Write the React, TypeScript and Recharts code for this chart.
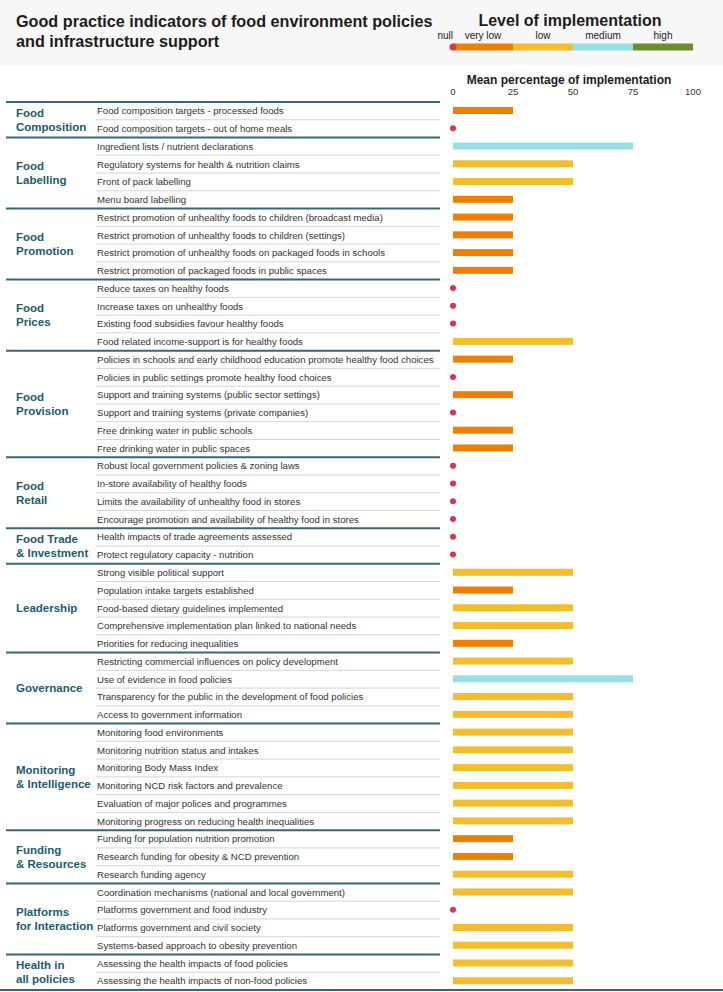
import React from "react";
import { BarChart, Bar, XAxis, YAxis } from "recharts";

const groupLabels: string[][] = [
  ["Food", "Composition"],
  ["Food", "Labelling"],
  ["Food", "Promotion"],
  ["Food", "Prices"],
  ["Food", "Provision"],
  ["Food", "Retail"],
  ["Food Trade", "& Investment"],
  ["Leadership"],
  ["Governance"],
  ["Monitoring", "& Intelligence"],
  ["Funding", "& Resources"],
  ["Platforms", "for Interaction"],
  ["Health in", "all policies"],
];

const groupSizes = [2, 4, 4, 4, 6, 4, 2, 5, 4, 6, 3, 4, 2];

const indicators = [
  "Food composition targets - processed foods",
  "Food composition targets - out of home meals",
  "Ingredient lists / nutrient declarations",
  "Regulatory systems for health & nutrition claims",
  "Front of pack labelling",
  "Menu board labelling",
  "Restrict promotion of unhealthy foods to children (broadcast media)",
  "Restrict promotion of unhealthy foods to children (settings)",
  "Restrict promotion of unhealthy foods on packaged foods in schools",
  "Restrict promotion of packaged foods in public spaces",
  "Reduce taxes on healthy foods",
  "Increase taxes on unhealthy foods",
  "Existing food subsidies favour healthy foods",
  "Food related income-support is for healthy foods",
  "Policies in schools and early childhood education promote healthy food choices",
  "Policies in public settings promote healthy food choices",
  "Support and training systems (public sector settings)",
  "Support and training systems (private companies)",
  "Free drinking water in public schools",
  "Free drinking water in public spaces",
  "Robust local government policies & zoning laws",
  "In-store availability of healthy foods",
  "Limits the availability of unhealthy food in stores",
  "Encourage promotion and availability of healthy food in stores",
  "Health impacts of trade agreements assessed",
  "Protect regulatory capacity - nutrition",
  "Strong visible political support",
  "Population intake targets established",
  "Food-based dietary guidelines implemented",
  "Comprehensive implementation plan linked to national needs",
  "Priorities for reducing inequalities",
  "Restricting commercial influences on policy development",
  "Use of evidence in food policies",
  "Transparency for the public in the development of food policies",
  "Access to government information",
  "Monitoring food environments",
  "Monitoring nutrition status and intakes",
  "Monitoring Body Mass Index",
  "Monitoring NCD risk factors and prevalence",
  "Evaluation of major polices and programmes",
  "Monitoring progress on reducing health inequalities",
  "Funding for population nutrition promotion",
  "Research funding for obesity & NCD prevention",
  "Research funding agency",
  "Coordination mechanisms (national and local government)",
  "Platforms government and food industry",
  "Platforms government and civil society",
  "Systems-based approach to obesity prevention",
  "Assessing the health impacts of food policies",
  "Assessing the health impacts of non-food policies",
];

// mean % of implementation, 0 = null
const implementation = [
  25, 0,
  75, 50, 50, 25,
  25, 25, 25, 25,
  0, 0, 0, 50,
  25, 0, 25, 0, 25, 25,
  0, 0, 0, 0,
  0, 0,
  50, 25, 50, 50, 25,
  50, 75, 50, 50,
  50, 50, 50, 50, 50, 50,
  25, 25, 50,
  50, 0, 50, 50,
  50, 50,
];

const levelNames = ["null", "very low", "low", "medium", "high"];
const levelColors = ["#d9364e", "#ef7f00", "#f3bd2e", "#96e0e4", "#6e8e2e"];
const axisTicks = [0, 25, 50, 75, 100];

const W = 723;
const H = 992;
const PLOT_TOP = 102;
const PLOT_BOTTOM = 990;
const PLOT_LEFT = 453;
const PLOT_RIGHT = 693;
const ROW_H = (PLOT_BOTTOM - PLOT_TOP) / indicators.length;
const TEAL = "#3d6672";
const LABEL_TEAL = "#245a6b";
const FONT = "'Liberation Sans', Arial, Helvetica, sans-serif";

const levelIndex = (v: number) => (v === 0 ? 0 : Math.min(4, Math.ceil(v / 25)));

// row bookkeeping: group, position in group
const rows: { name: string; value: number; group: number; pos: number }[] = [];
groupSizes.forEach((size, g) => {
  for (let p = 0; p < size; p++) {
    const i = rows.length;
    rows.push({ name: indicators[i], value: implementation[i], group: g, pos: p });
  }
});

function RowTick(props: any) {
  const { y, payload } = props;
  const i = rows.findIndex((r) => r.name === payload.value);
  if (i < 0) return null;
  const row = rows[i];
  const size = groupSizes[row.group];
  const isLast = row.pos === size - 1;
  const top = y - ROW_H / 2;
  const bottom = y + ROW_H / 2;
  const lines = groupLabels[row.group];
  const groupMid = top + (size * ROW_H) / 2;
  return (
    <g>
      {i === 0 && <line x1={6} x2={440} y1={top} y2={top} stroke={TEAL} strokeWidth={2} />}
      <text x={97} y={y} dy="0.35em" fontSize={9.6} fill="#333" fontFamily={FONT}>
        {row.name}
      </text>
      {isLast ? (
        <line
          x1={i === rows.length - 1 ? 0 : 6}
          x2={i === rows.length - 1 ? W : 440}
          y1={bottom}
          y2={bottom}
          stroke={TEAL}
          strokeWidth={2}
        />
      ) : (
        <line x1={96} x2={440} y1={bottom} y2={bottom} stroke="#d4d4d4" strokeWidth={1} />
      )}
      {row.pos === 0 &&
        lines.map((l, k) => (
          <text
            key={k}
            x={16}
            y={groupMid + (k - (lines.length - 1) / 2) * 14}
            dy="0.35em"
            fontSize={11.5}
            fontWeight="bold"
            fill={LABEL_TEAL}
            fontFamily={FONT}
          >
            {l}
          </text>
        ))}
    </g>
  );
}

function PercentTick(props: any) {
  const { x, payload } = props;
  return (
    <text x={x} y={94.5} textAnchor="middle" fontSize={9.5} fill="#333" fontFamily={FONT}>
      {payload.value}
    </text>
  );
}

function ImplementationMark(props: any) {
  const { x, y, width, height, payload } = props;
  const v = payload.value;
  const color = levelColors[levelIndex(v)];
  if (v === 0) return <circle cx={x} cy={y + height / 2} r={3} fill={color} />;
  return <rect x={x} y={y} width={width} height={height} fill={color} />;
}

function Header() {
  const segW = (PLOT_RIGHT - PLOT_LEFT) / 4;
  return (
    <svg width={W} height={100} style={{ position: "absolute", left: 0, top: 0 }}>
      <rect x={0} y={0} width={W} height={65} fill="#f7f7f7" />
      <text fontFamily={FONT} fontSize={16.2} fontWeight="bold" fill="#1c1c1c">
        <tspan x={16} y={27}>Good practice indicators of food environment policies</tspan>
        <tspan x={16} y={47}>and infrastructure support</tspan>
      </text>
      <text x={570} y={26} textAnchor="middle" fontFamily={FONT} fontSize={16} fontWeight="bold" fill="#1c1c1c">
        Level of implementation
      </text>
      {levelNames.map((name, k) => (
        <text
          key={name}
          x={k === 0 ? PLOT_LEFT : PLOT_LEFT + segW * (k - 0.5)}
          y={39}
          textAnchor={k === 0 ? "end" : "middle"}
          fontFamily={FONT}
          fontSize={10}
          fill="#222"
        >
          {name}
        </text>
      ))}
      {levelColors.slice(1).map((c, k) => (
        <rect key={c} x={PLOT_LEFT + segW * k} y={43.5} width={segW} height={7} fill={c} />
      ))}
      <circle cx={PLOT_LEFT} cy={47} r={3.6} fill={levelColors[0]} />
      <text x={569} y={84} textAnchor="middle" fontFamily={FONT} fontSize={12} fontWeight="bold" fill="#1c1c1c">
        Mean percentage of implementation
      </text>
    </svg>
  );
}

export default function App() {
  return (
    <div style={{ position: "relative", width: W, height: H, background: "#fff", fontFamily: FONT }}>
      <style>{"body{margin:0}"}</style>
      <Header />
      <div style={{ position: "absolute", left: 0, top: 0 }}>
        <BarChart
          width={W}
          height={H}
          data={rows}
          layout="vertical"
          margin={{ top: PLOT_TOP - 40, right: W - PLOT_RIGHT, bottom: H - PLOT_BOTTOM, left: PLOT_LEFT - 1 }}
        >
          <XAxis
            type="number"
            orientation="top"
            domain={[0, 100]}
            ticks={axisTicks}
            height={40}
            axisLine={false}
            tickLine={false}
            tick={<PercentTick />}
          />
          <YAxis
            type="category"
            dataKey="name"
            width={1}
            interval={0}
            axisLine={false}
            tickLine={false}
            tick={<RowTick />}
          />
          <Bar
            dataKey="value"
            barSize={7}
            isAnimationActive={false}
            shape={<ImplementationMark />}
          />
        </BarChart>
      </div>
    </div>
  );
}
